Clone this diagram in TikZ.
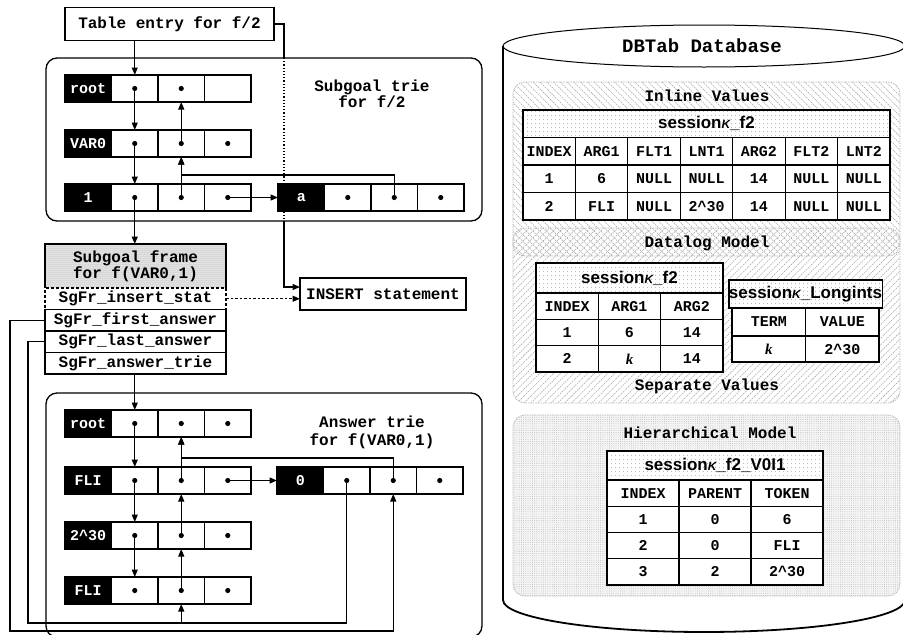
\documentclass[tikz,border=0pt]{standalone}
\usepackage{fontspec}
\setmainfont{Liberation Serif}
\setsansfont{Liberation Sans}
\setmonofont{Liberation Mono}
\usetikzlibrary{arrows.meta,patterns.meta}

% a row of a trie: black label cell followed by three pointer cells
\newcommand\trierow[4]{%
  \node[lblcell] (#1l) at ({#2+23.25},#3) {#4};
  \node[ptrcell] (#1a) at ({#2+69.75},#3) {};
  \node[ptrcell] (#1b) at ({#2+116.25},#3) {};
  \node[ptrcell] (#1c) at ({#2+162.75},#3) {};}
% pointer dot in a cell
\newcommand\ptrdot[1]{\fill (#1) circle[radius=2.6pt];}
% a row of equal-width table cells
\newcommand\tabrow[6]{%
  \foreach \t [count=\i] in {#6}{%
    \node[tcell, minimum width=#3pt, minimum height=#5pt] (#1\i) at ({#2+(\i-0.5)*#3},#4) {\t};}}
\newcommand\kap{{\fontsize{12}{12}\selectfont\itshape K}}
\newcommand\kk{{\rmfamily\bfseries\itshape k}}
\newcommand\pw{2\textasciicircum 30}

\tikzset{
  every node/.style={inner sep=0pt, outer sep=0pt},
  mono/.style={font=\fontsize{16}{16}\selectfont\ttfamily\bfseries},
  lblcell/.style={draw=black, fill=black, text=white, minimum width=46.5pt,
    minimum height=27pt, line width=1.1pt,
    font=\fontsize{15}{15}\selectfont\ttfamily\bfseries},
  ptrcell/.style={draw=black, fill=white, minimum width=46.5pt,
    minimum height=27pt, line width=1.1pt},
  link/.style={line width=1.2pt},
  arr/.style={link, -{Triangle[length=7.5pt,width=6pt]}},
  triebox/.style={draw, line width=1.3pt, rounded corners=11pt},
  frcell/.style={draw, fill=white, line width=1.2pt, minimum width=181pt,
    minimum height=21.5pt, mono},
  tcell/.style={draw, fill=white, line width=1.2pt,
    font=\fontsize{15}{15}\selectfont\ttfamily\bfseries},
  thead/.style={draw, line width=1.2pt, preaction={fill=white},
    pattern={Dots[radius=0.6pt,distance=4pt]}, pattern color=gray!80,
    font=\fontsize{17}{17}\selectfont\sffamily\bfseries},
  region/.style={draw=gray!55, line width=0.8pt, dash pattern=on 1.5pt off 1pt,
    rounded corners=12pt},
}

\begin{document}
\begin{tikzpicture}[x=1pt, y=-1pt]
\useasboundingbox (0,0) rectangle (903,635);
\fill[white] (0,0) rectangle (903,635);

% ---------------- DBTab database cylinder ----------------
\draw[line width=1pt] (704,46) ellipse[x radius=201, y radius=21];
\draw[line width=1.2pt] (503,46) -- (503,600);
\draw[line width=1.2pt] (905,46) -- (905,600);
\begin{scope}
  \clip (480,600) rectangle (930,660);
  \draw[line width=1.8pt] (704,600) ellipse[x radius=201, y radius=32];
\end{scope}
\node[font=\fontsize{19}{19}\selectfont\ttfamily\bfseries] (dbt) at (702,46) {DBTab Database};

% storage regions
\draw[region, pattern={Lines[angle=-45,distance=4.8pt,line width=0.55pt]},
  pattern color=gray!70] (513,82) rectangle (900,256);
\draw[region, pattern={Lines[angle=45,distance=4.8pt,line width=0.55pt]},
  pattern color=gray!70] (513,228) rectangle (900,403);
\draw[region, preaction={fill=gray!8}, pattern={Dots[radius=0.45pt,distance=2.2pt]},
  pattern color=gray!60] (513,415) rectangle (900,596);

\node[mono] (tinl) at (707,96) {Inline Values};
\node[mono] (tdat) at (707,243) {Datalog Model};
\node[mono] (tsep) at (707,386) {Separate Values};
\node[mono] (thie) at (710,433) {Hierarchical Model};

% inline values table
\node[thead, minimum width=367pt, minimum height=27.5pt] (ih) at (706.5,123.75) {session\kap\_f2};
\tabrow{ia}{523}{52.43}{151.25}{27.5}{INDEX,ARG1,FLT1,LNT1,ARG2,FLT2,LNT2}
\tabrow{ib}{523}{52.43}{178.75}{27.5}{1,6,NULL,NULL,14,NULL,NULL}
\tabrow{ic}{523}{52.43}{206.25}{27.5}{2,FLI,NULL,\pw,14,NULL,NULL}

% datalog model tables
\node[thead, minimum width=187pt, minimum height=30pt] (dh) at (629.5,278) {session\kap\_f2};
\tabrow{da}{536}{62.33}{306.17}{26.33}{INDEX,ARG1,ARG2}
\tabrow{db}{536}{62.33}{332.5}{26.33}{1,6,14}
\tabrow{dc}{536}{62.33}{358.83}{26.33}{2,\kk,14}

\node[thead, minimum width=147pt, minimum height=28pt] (lh) at (805.5,294) {session\kap\_Longints};
\tabrow{la}{732}{73.5}{322}{28}{TERM,VALUE}
\tabrow{lb}{732}{73.5}{349}{26}{\kk,\pw}

% hierarchical model table
\node[thead, minimum width=216pt, minimum height=29pt] (hh) at (715,465.5) {session\kap\_f2\_V0I1};
\tabrow{ha}{607}{72}{493.13}{26.25}{INDEX,PARENT,TOKEN}
\tabrow{hb}{607}{72}{519.38}{26.25}{1,0,6}
\tabrow{hc}{607}{72}{545.63}{26.25}{2,0,FLI}
\tabrow{hd}{607}{72}{571.88}{26.25}{3,2,\pw}

% ---------------- table entry and subgoal trie ----------------
\node[draw, fill=white, line width=1.3pt, minimum width=209pt, minimum height=33pt, mono]
  (te) at (169.5,24) {Table entry for f/2};
\node[draw, fill=white, line width=1.3pt, minimum width=166pt, minimum height=32pt, mono]
  (ins) at (383,294) {INSERT statement};

\draw[triebox] (46,58) rectangle (482,221);
\node[mono, align=center, font=\fontsize{16}{14}\selectfont\ttfamily\bfseries]
  (tsg) at (372,94) {Subgoal trie\\for f/2};

\trierow{s1}{65}{88.5}{root}
\trierow{s2}{65}{143.5}{VAR0}
\trierow{s3}{65}{197.5}{1}
\trierow{sa}{278}{197.5}{a}
\ptrdot{s1a}\ptrdot{s1b}
\ptrdot{s2a}\ptrdot{s2b}\ptrdot{s2c}
\ptrdot{s3a}\ptrdot{s3b}\ptrdot{s3c}
\ptrdot{saa}\ptrdot{sab}\ptrdot{sac}

\coordinate (sj) at (181.25,175);
\draw[arr] (s1a.north |- te.south) -- (s1a.north);
\draw[arr] (s1a.center) -- (s2a.north);
\draw[arr] (s2a.center) -- (s3a.north);
\draw[arr] (s2b.center) -- (s1b.south);
\draw[arr] (s3b.center) -- (s2b.south);
\draw[arr] (sab.center) |- (sj) -- (s2b.south);
\draw[arr] (s3c.center) -- (sal.west);

% ---------------- subgoal frame ----------------
\node[minimum width=181pt, minimum height=44pt, align=center,
  preaction={fill=gray!18}, pattern={Dots[radius=0.5pt,distance=2pt]}, pattern color=gray!80,
  font=\fontsize{16}{14}\selectfont\ttfamily\bfseries]
  (sf) at (135.5,266) {Subgoal frame\\for f(VAR0,1)};
\node[frcell, dash pattern=on 3pt off 2pt] (si) at (135.5,298.75) {SgFr\_insert\_stat};
\node[frcell] (sfa) at (135.5,320.25) {SgFr\_first\_answer};
\node[frcell] (sla) at (135.5,341.75) {SgFr\_last\_answer};
\node[frcell] (sat) at (135.5,363.25) {SgFr\_answer\_trie};
\draw[line width=1.2pt] (sf.south west) |- (sf.north east) -- (sf.south east);

\draw[arr] (s3a.center) -- (s3a.center |- sf.north);

% table entry to INSERT statement, hidden behind the subgoal trie
\coordinate (tpA) at (284,58);
\coordinate (tpB) at (284,221);
\coordinate (insA) at ([yshift=7pt]ins.west);
\draw[link] (te.east) -| (tpA);
\draw[link, dotted] (tpA) -- (tpB);
\draw[arr] (tpB) |- (insA);
\draw[arr, dash pattern=on 2.5pt off 2pt] (si.east) -- (si.east -| ins.west);

% ---------------- answer trie ----------------
\draw[triebox] (46,393) rectangle (482,637);
\node[align=center, font=\fontsize{16}{18}\selectfont\ttfamily\bfseries]
  (tan) at (372,432) {Answer trie\\for f(VAR0,1)};

\trierow{a1}{65}{423.5}{root}
\trierow{a2}{65}{480.5}{FLI}
\trierow{a3}{65}{535.5}{\pw}
\trierow{a4}{65}{590.5}{FLI}
\trierow{z0}{277}{480.5}{0}
\foreach \r in {a1,a2,a3,a4,z0}{\ptrdot{\r a}\ptrdot{\r b}\ptrdot{\r c}}

\coordinate (aj) at (181.25,458);
\draw[arr] (a1a.north |- sat.south) -- (a1a.north);
\draw[arr] (a1a.center) -- (a2a.north);
\draw[arr] (a2a.center) -- (a3a.north);
\draw[arr] (a3a.center) -- (a4a.north);
\draw[arr] (a2b.center) -- (a1b.south);
\draw[arr] (a3b.center) -- (a2b.south);
\draw[arr] (a4b.center) -- (a3b.south);
\draw[arr] (z0b.center) |- (aj) -- (a1b.south);
\draw[arr] (a2c.center) -- (z0l.west);

% first / last answer pointers
\coordinate (outerL) at (10,631);
\coordinate (innerL) at (28,623);
\draw[arr] (sfa.west) -| (outerL) -| (z0b.south);
\draw[link] (z0a.center) |- (innerL) |- (sla.west);
\draw[arr] (a4b.south |- innerL) -- (a4b.south);
\end{tikzpicture}
\end{document}
